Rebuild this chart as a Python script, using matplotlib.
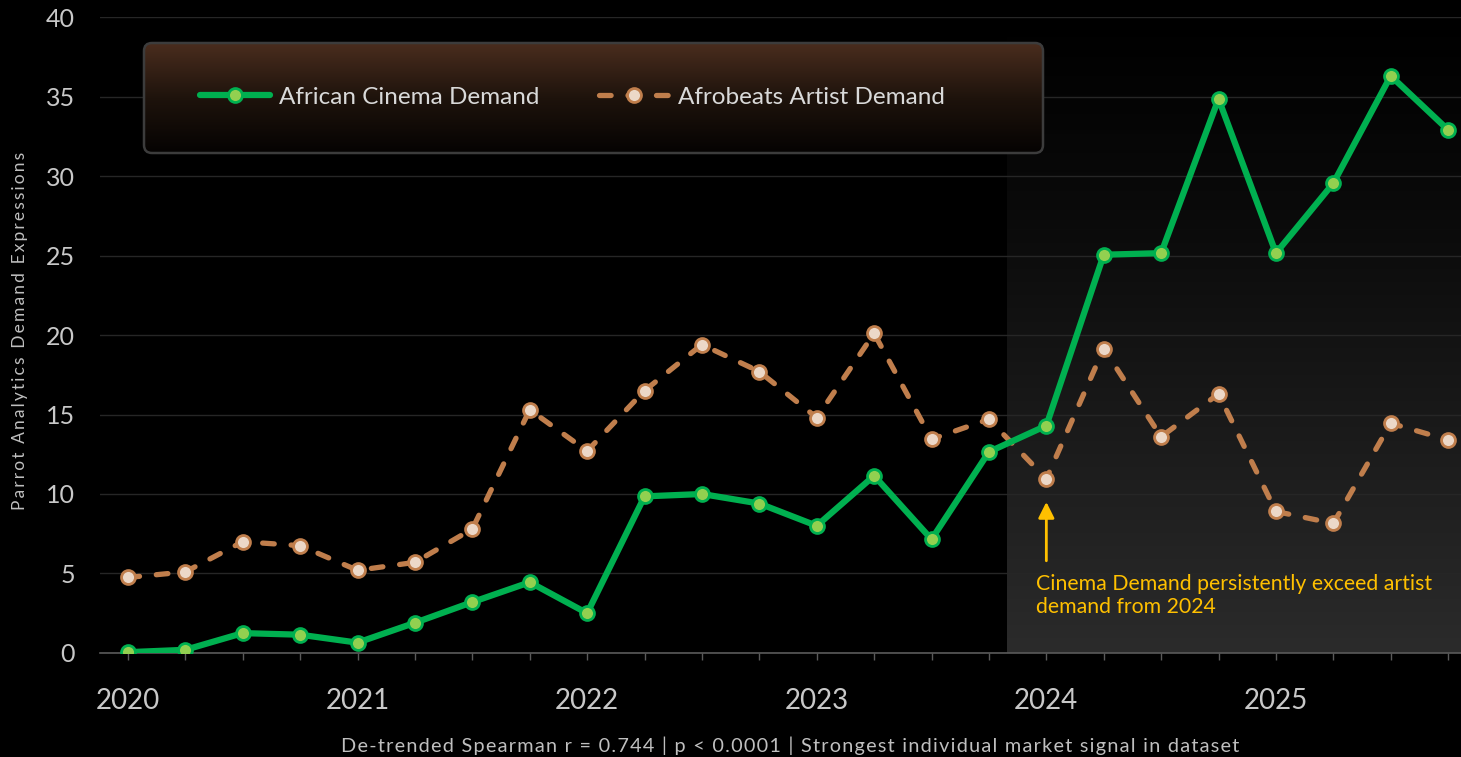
import numpy as np
import matplotlib.pyplot as plt
from matplotlib.patches import FancyBboxPatch
from matplotlib.colors import LinearSegmentedColormap

plt.rcParams['font.family'] = ['Lato', 'DejaVu Sans']

# quarterly periods 2020Q1 .. 2025Q4
periods = ['2020Q1', '2020Q2', '2020Q3', '2020Q4',
           '2021Q1', '2021Q2', '2021Q3', '2021Q4',
           '2022Q1', '2022Q2', '2022Q3', '2022Q4',
           '2023Q1', '2023Q2', '2023Q3', '2023Q4',
           '2024Q1', '2024Q2', '2024Q3', '2024Q4',
           '2025Q1', '2025Q2', '2025Q3', '2025Q4']
cinema = [0.05, 0.2, 1.25, 1.15, 0.65, 1.9, 3.2, 4.45,
          2.5, 9.85, 10.0, 9.4, 8.0, 11.15, 7.15, 12.65,
          14.3, 25.05, 25.15, 34.85, 25.15, 29.55, 36.3, 32.9]
afrobeats = [4.75, 5.1, 7.0, 6.75, 5.2, 5.7, 7.8, 15.3,
             12.7, 16.5, 19.4, 17.7, 14.8, 20.1, 13.45, 14.7,
             10.95, 19.15, 13.6, 16.3, 8.9, 8.15, 14.45, 13.4]
years = [2020, 2021, 2022, 2023, 2024, 2025]

x = [int(p[:4]) + (int(p[-1]) - 1) / 4 for p in periods]


def spaced(s, sep='\u200a'):
    return sep.join(s)


fig = plt.figure(figsize=(14.61, 7.57), dpi=100, facecolor='black')
ax = fig.add_axes([0.0684, 0.1374, 0.9316, 0.8401])
ax.set_facecolor('black')
ax.set_xlim(2019.878, 2025.806)
ax.set_ylim(0, 40)

# shaded "from 2024" region, dark at the top and lighter at the bottom
grad = LinearSegmentedColormap.from_list('shade', ['#000000', '#0b0b0b', '#1b1b1b', '#2b2b2b'])
ax.imshow(np.linspace(0, 1, 256).reshape(-1, 1), cmap=grad, aspect='auto',
          extent=[2023.83, 2025.806, 0, 40], zorder=0.5)

ax.grid(axis='y', color='#262626', lw=1)
ax.set_axisbelow(True)
for s in ['left', 'right', 'top']:
    ax.spines[s].set_visible(False)
ax.spines['bottom'].set_color('#5a5a5a')
ax.spines['bottom'].set_linewidth(1.2)

ax.plot(x, cinema, color='#00b050', lw=4.5, marker='o', ms=10,
        mfc='#92d050', mec='#00b050', mew=2, zorder=4,
        solid_capstyle='round', label='African Cinema Demand')
ax.plot(x, afrobeats, color='#c07e4c', lw=3.8, ls=(0, (2.2, 3.2)),
        dash_capstyle='round', marker='o', ms=10,
        mfc='#ecd8c8', mec='#c07e4c', mew=2, zorder=3,
        label='Afrobeats Artist Demand')

ax.set_yticks(range(0, 41, 5))
ax.set_xticks(years)
ax.set_xticks(x, minor=True)
ax.tick_params(axis='y', length=0, pad=18, labelsize=18, labelcolor='#c8c8c8')
ax.tick_params(axis='x', which='both', length=5, width=1, color='#5a5a5a',
               pad=20, labelsize=20, labelcolor='#c8c8c8')

# annotation
ax.annotate('', xy=(2024, 9.5), xytext=(2024, 5.8),
            arrowprops=dict(arrowstyle='-|>', color='#ffc000', lw=2,
                            mutation_scale=24, shrinkA=0, shrinkB=0))
ax.text(2023.955, 4.95, 'Cinema Demand persistently exceed artist\ndemand from 2024',
        color='#ffc000', fontsize=15.3, va='top', ha='left', linespacing=1.15)

fig.text(0.0137, 0.5627, spaced('Parrot Analytics Demand Expressions', '\u2009'),
         rotation=90, ha='center', va='center', fontsize=12.5, color='#bfbfbf')
fig.text(0.5407, 0.0145,
         spaced('De-trended Spearman r = 0.744 | p < 0.0001 | Strongest individual market signal in dataset'),
         ha='center', va='center', fontsize=14.3, color='#bfbfbf')

# legend box with brown gradient
lax = fig.add_axes([0.0986, 0.7979, 0.6153, 0.1453])
lax.axis('off')
bg = LinearSegmentedColormap.from_list('lg', ['#050302', '#1e130c', '#4a2d1e'])
im = lax.imshow(np.linspace(1, 0, 256).reshape(-1, 1), cmap=bg, aspect='auto',
                extent=[0, 1, 0, 1])
box = FancyBboxPatch((1.44, 6.04), 8.99, 1.10, boxstyle='round,pad=0,rounding_size=0.08',
                     transform=fig.dpi_scale_trans, fc='none', ec='#3c3c3c', lw=1.8,
                     clip_on=False)
lax.add_patch(box)
im.set_clip_path(box)

h, l = ax.get_legend_handles_labels()
fig.legend(h, l, loc='center left', bbox_to_anchor=(200 / 1461, 1 - 97 / 757),
           ncol=2, frameon=False, fontsize=17.5, labelcolor='#d9d9d9',
           handlelength=2.9, handletextpad=0.35, columnspacing=2.45,
           borderpad=0, borderaxespad=0)

fig.savefig('out.png', dpi=100, facecolor='black')
